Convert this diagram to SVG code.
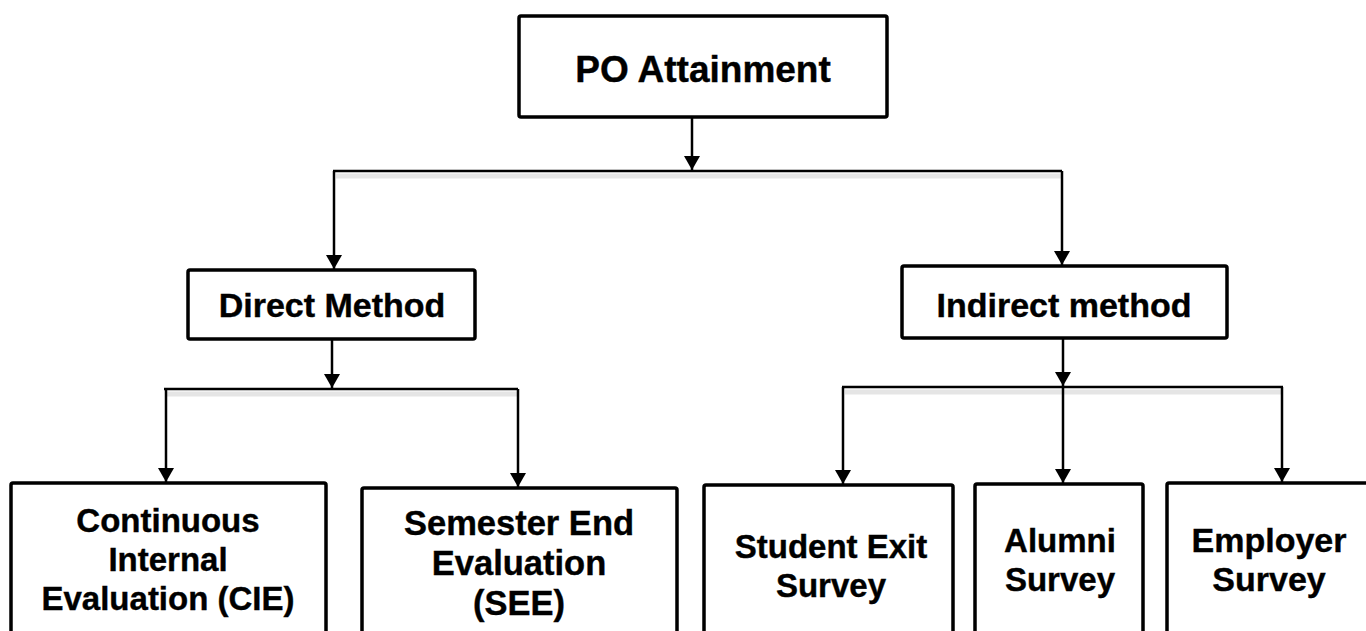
<svg xmlns="http://www.w3.org/2000/svg" width="1366" height="631" viewBox="0 0 1366 631">
<style>
.box{fill:#fff;stroke:#000;stroke-width:3.5}
text{font-family:'Liberation Sans',Arimo,Arial,Helvetica,sans-serif;font-weight:700;fill:#000;stroke:#000;stroke-width:0.4;text-anchor:middle}
.ln{fill:none;stroke:#000;stroke-width:2.5}
.sh{fill:none;stroke:#000;stroke-opacity:0.1;stroke-width:5}
</style>
<defs>
<marker id="ah" viewBox="0 0 14 16" refX="14" refY="8" markerWidth="14" markerHeight="16" markerUnits="userSpaceOnUse" orient="auto">
<path d="M0,0 L14,8 L0,16 z" fill="#000"/>
</marker>
</defs>
<rect width="1366" height="631" fill="#fff"/>
<g id="connectors">
<path class="sh" d="M336,176 H1062 M167,394 H518 M845,392 H1283"/>
<path class="ln" d="M692,117 V170" marker-end="url(#ah)"/>
<path class="ln" d="M333,171 H1062"/>
<path class="ln" d="M334,171 V269" marker-end="url(#ah)"/>
<path class="ln" d="M1062,171 V265" marker-end="url(#ah)"/>
<path class="ln" d="M332,339 V388" marker-end="url(#ah)"/>
<path class="ln" d="M164,389 H518"/>
<path class="ln" d="M166,389 V482" marker-end="url(#ah)"/>
<path class="ln" d="M518,389 V487" marker-end="url(#ah)"/>
<path class="ln" d="M1063,338 V386" marker-end="url(#ah)"/>
<path class="ln" d="M842,387 H1283"/>
<path class="ln" d="M843,387 V484" marker-end="url(#ah)"/>
<path class="ln" d="M1063,387 V483" marker-end="url(#ah)"/>
<path class="ln" d="M1282,387 V482" marker-end="url(#ah)"/>
</g>
<g id="po">
<rect class="box" x="519" y="16" width="368" height="101" rx="2"/>
<text x="703" y="82" font-size="37">PO Attainment</text>
</g>
<g id="direct">
<rect class="box" x="188" y="270" width="287" height="69" rx="2"/>
<text x="332" y="317" font-size="34">Direct Method</text>
</g>
<g id="indirect">
<rect class="box" x="902" y="266" width="325" height="72" rx="2"/>
<text x="1064" y="317" font-size="34">Indirect method</text>
</g>
<g id="cie">
<rect class="box" x="11" y="483" width="315" height="170" rx="2"/>
<text x="168" y="532" font-size="33">Continuous</text>
<text x="168" y="571" font-size="33">Internal</text>
<text x="168" y="610" font-size="33">Evaluation (CIE)</text>
</g>
<g id="see">
<rect class="box" x="362" y="488" width="315" height="170" rx="2"/>
<text x="519" y="535" font-size="34.5">Semester End</text>
<text x="519" y="575" font-size="34.5">Evaluation</text>
<text x="519" y="615" font-size="34.5">(SEE)</text>
</g>
<g id="student">
<rect class="box" x="704" y="485" width="249" height="170" rx="2"/>
<text x="831" y="558" font-size="33">Student Exit</text>
<text x="831" y="597" font-size="33">Survey</text>
</g>
<g id="alumni">
<rect class="box" x="975" y="484" width="168" height="170" rx="2"/>
<text x="1060" y="552" font-size="33">Alumni</text>
<text x="1060" y="591" font-size="33">Survey</text>
</g>
<g id="employer">
<rect class="box" x="1167" y="483" width="203" height="170" rx="2"/>
<text x="1269" y="552" font-size="34">Employer</text>
<text x="1269" y="591" font-size="34">Survey</text>
</g>
</svg>
